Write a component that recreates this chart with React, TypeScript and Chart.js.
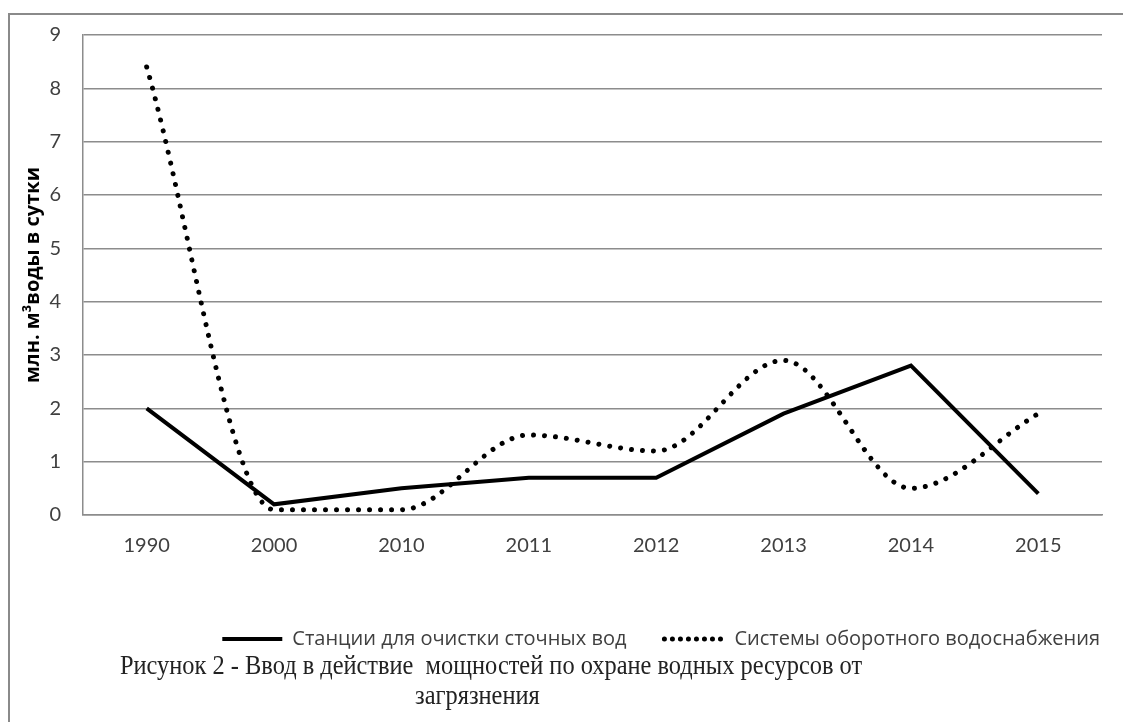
import React, { useEffect, useRef } from "react";
import { Chart, registerables } from "chart.js";

Chart.register(...registerables);

const categories = ["1990", "2000", "2010", "2011", "2012", "2013", "2014", "2015"];
const stationsLabel = "Станции для очистки сточных вод";
const stationsValues = [2.0, 0.2, 0.5, 0.7, 0.7, 1.9, 2.8, 0.4];
const recyclingLabel = "Системы оборотного водоснабжения";
const recyclingValues = [8.4, 0.1, 0.1, 1.5, 1.2, 2.9, 0.5, 1.9];
const yTitle = "млн. м³воды в сутки";
const captionLine1 = "Рисунок 2 - Ввод в действие  мощностей по охране водных ресурсов от";
const captionLine2 = "загрязнения";

const legendShift = {
  id: "legendShift",
  afterLayout(chart: any) {
    if (chart.legend) {
      chart.legend.left += 36;
      chart.legend.right += 36;
    }
  },
};

export default function App() {
  const canvasRef = useRef<HTMLCanvasElement | null>(null);

  useEffect(() => {
    if (!canvasRef.current) return;
    const chart = new Chart(canvasRef.current, {
      type: "line",
      data: {
        labels: categories,
        datasets: [
          {
            label: stationsLabel,
            data: stationsValues,
            borderColor: "#000000",
            backgroundColor: "#000000",
            borderWidth: 4,
            pointRadius: 0,
            tension: 0,
            fill: false,
          },
          {
            label: recyclingLabel,
            data: recyclingValues,
            borderColor: "#000000",
            backgroundColor: "#000000",
            borderWidth: 5,
            borderDash: [0.01, 11],
            borderCapStyle: "round",
            pointRadius: 0,
            cubicInterpolationMode: "monotone",
            fill: false,
          },
        ],
      },
      plugins: [legendShift],
      options: {
        animation: false,
        responsive: false,
        maintainAspectRatio: false,
        layout: { padding: { left: 0, right: 21, top: 35, bottom: 0 } },
        plugins: {
          tooltip: { enabled: false },
          legend: {
            position: "bottom",
            align: "end",
            labels: {
              usePointStyle: true,
              pointStyle: "line",
              pointStyleWidth: 60,
              boxWidth: 60,
              boxHeight: 4,
              padding: 38,
              color: "#404040",
              font: { family: "'Open Sans', sans-serif", size: 20 },
              generateLabels: (chart: any) =>
                chart.data.datasets.map((ds: any, i: number) => ({
                  text: ds.label,
                  fillStyle: "#000",
                  strokeStyle: "#000",
                  lineWidth: i === 0 ? 4 : 5,
                  lineDash: i === 0 ? [] : [0.01, 8],
                  lineCap: i === 0 ? "butt" : "round",
                  pointStyle: "line",
                  hidden: false,
                  datasetIndex: i,
                  fontColor: "#404040",
                })),
            },
          },
        },
        scales: {
          x: {
            type: "category",
            offset: true,
            grid: { display: false, drawTicks: false },
            border: { display: true, color: "#8c8c8c", width: 1.5 },
            ticks: {
              color: "#404040",
              padding: 19,
              font: { family: "Lato, 'Open Sans', sans-serif", size: 20 },
            },
            afterFit: (scale: any) => {
              scale.height = 76;
            },
          },
          y: {
            min: 0,
            max: 9,
            ticks: {
              stepSize: 1,
              color: "#404040",
              padding: 22,
              font: { family: "Lato, 'Open Sans', sans-serif", size: 20 },
            },
            grid: { color: "#8c8c8c", lineWidth: 1.5, drawTicks: false },
            border: { display: true, color: "#8c8c8c", width: 1.5 },
            title: {
              display: true,
              text: yTitle,
              color: "#000000",
              padding: { top: 21, bottom: 0 },
              font: { family: "'Open Sans', sans-serif", size: 20, weight: "bold" },
            },
            afterFit: (scale: any) => {
              scale.width = 83;
            },
          },
        },
      },
    });
    return () => chart.destroy();
  }, []);

  const captionStyle: React.CSSProperties = {
    position: "absolute",
    whiteSpace: "pre",
    fontFamily: "'Liberation Serif', 'Times New Roman', serif",
    fontSize: 24.4,
    color: "#222222",
    lineHeight: "28px",
    transform: "scaleY(1.1)",
    transformOrigin: "top left",
  };

  return (
    <div
      style={{
        position: "absolute",
        left: 0,
        top: 0,
        width: 1123,
        height: 722,
        overflow: "hidden",
        background: "#ffffff",
      }}
    >
      <div
        style={{
          position: "absolute",
          left: 8,
          top: 13,
          width: 1200,
          height: 800,
          border: "2px solid #8a8a8a",
        }}
      />
      <canvas
        ref={canvasRef}
        width={1123}
        height={659}
        style={{ position: "absolute", left: 0, top: 0, width: 1123, height: 659 }}
      />
      <div style={{ ...captionStyle, left: 120, top: 650 }}>{captionLine1}</div>
      <div style={{ ...captionStyle, left: 415, top: 680 }}>{captionLine2}</div>
    </div>
  );
}
